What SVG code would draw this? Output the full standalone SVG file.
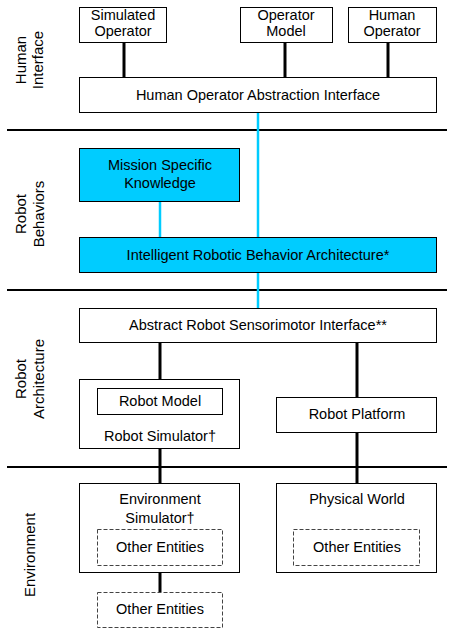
<svg xmlns="http://www.w3.org/2000/svg" width="452" height="630" viewBox="0 0 452 630">
<style>
text{font-family:"Liberation Sans",Arial,sans-serif;font-size:14.5px;fill:#000;text-anchor:middle}
.side{font-size:15px}
.box{fill:#fff;stroke:#000;stroke-width:1}
.cyan{fill:#00ccff;stroke:#000;stroke-width:1}
.dash{fill:#fff;stroke:#444;stroke-width:1;stroke-dasharray:4,2}
.sep{stroke:#000;stroke-width:2}
.con{stroke:#000;stroke-width:3}
.ccon{stroke:#00ccff;stroke-width:2.5}
</style>
<rect width="452" height="630" fill="#fff"/>
<g id="separators">
<line class="sep" x1="7" y1="130" x2="447" y2="130"/>
<line class="sep" x1="7" y1="290" x2="447" y2="290"/>
<line class="sep" x1="7" y1="467" x2="447" y2="467"/>
</g>
<g id="layer-labels">
<text class="side" transform="translate(26,60) rotate(-90)">Human</text>
<text class="side" transform="translate(43,60) rotate(-90)">Interface</text>
<text class="side" transform="translate(26,214) rotate(-90)">Robot</text>
<text class="side" transform="translate(44,214) rotate(-90)">Behaviors</text>
<text class="side" transform="translate(26,379) rotate(-90)">Robot</text>
<text class="side" transform="translate(44,379) rotate(-90)">Architecture</text>
<text class="side" transform="translate(35,555) rotate(-90)">Environment</text>
</g>
<g id="connectors">
<line class="con" x1="124" y1="42" x2="124" y2="78"/>
<line class="con" x1="285" y1="42" x2="285" y2="78"/>
<line class="con" x1="388" y1="42" x2="388" y2="78"/>
<line class="ccon" x1="258" y1="113" x2="258" y2="237"/>
<line class="ccon" x1="160" y1="202" x2="160" y2="237"/>
<line class="ccon" x1="258" y1="273" x2="258" y2="308"/>
<line class="con" x1="160" y1="343" x2="160" y2="388"/>
<line class="con" x1="357" y1="343" x2="357" y2="397"/>
<line class="con" x1="160" y1="449" x2="160" y2="483"/>
<line class="con" x1="357" y1="432" x2="357" y2="483"/>
<line class="con" x1="160" y1="573" x2="160" y2="592"/>
</g>
<g id="simulated-operator">
<rect class="box" x="79.5" y="7.5" width="87" height="35"/>
<text x="123" y="20">Simulated</text>
<text x="123" y="36">Operator</text>
</g>
<g id="operator-model">
<rect class="box" x="240.5" y="7.5" width="92" height="35"/>
<text x="286" y="20">Operator</text>
<text x="286" y="36">Model</text>
</g>
<g id="human-operator">
<rect class="box" x="348.5" y="7.5" width="88" height="35"/>
<text x="392" y="20">Human</text>
<text x="392" y="36">Operator</text>
</g>
<g id="human-operator-abstraction-interface">
<rect class="box" x="79.5" y="77.5" width="357" height="35"/>
<text x="258" y="100">Human Operator Abstraction Interface</text>
</g>
<g id="mission-specific-knowledge">
<rect class="cyan" x="79.5" y="148.5" width="160" height="53"/>
<text x="160" y="170">Mission Specific</text>
<text x="160" y="188">Knowledge</text>
</g>
<g id="intelligent-robotic-behavior-architecture">
<rect class="cyan" x="79.5" y="237.5" width="357" height="35"/>
<text x="258" y="260">Intelligent Robotic Behavior Architecture*</text>
</g>
<g id="abstract-robot-sensorimotor-interface">
<rect class="box" x="79.5" y="308.5" width="357" height="34"/>
<text x="258" y="330">Abstract Robot Sensorimotor Interface**</text>
</g>
<g id="robot-simulator">
<rect class="box" x="79.5" y="379.5" width="160" height="69"/>
<text x="160" y="441">Robot Simulator†</text>
</g>
<g id="robot-model">
<rect class="box" x="97.5" y="388.5" width="125" height="26"/>
<text x="160" y="406">Robot Model</text>
</g>
<g id="robot-platform">
<rect class="box" x="276.5" y="397.5" width="160" height="35"/>
<text x="357" y="419">Robot Platform</text>
</g>
<g id="environment-simulator">
<rect class="box" x="79.5" y="483.5" width="160" height="89"/>
<text x="160" y="504">Environment</text>
<text x="160" y="523">Simulator†</text>
</g>
<g id="env-other-entities">
<rect class="dash" x="97.5" y="529.5" width="125" height="36"/>
<text x="160" y="552">Other Entities</text>
</g>
<g id="physical-world">
<rect class="box" x="276.5" y="483.5" width="160" height="89"/>
<text x="357" y="504">Physical World</text>
</g>
<g id="physical-other-entities">
<rect class="dash" x="293.5" y="529.5" width="126" height="36"/>
<text x="357" y="552">Other Entities</text>
</g>
<g id="external-other-entities">
<rect class="dash" x="97.5" y="592.5" width="125" height="35"/>
<text x="160" y="614">Other Entities</text>
</g>
</svg>
